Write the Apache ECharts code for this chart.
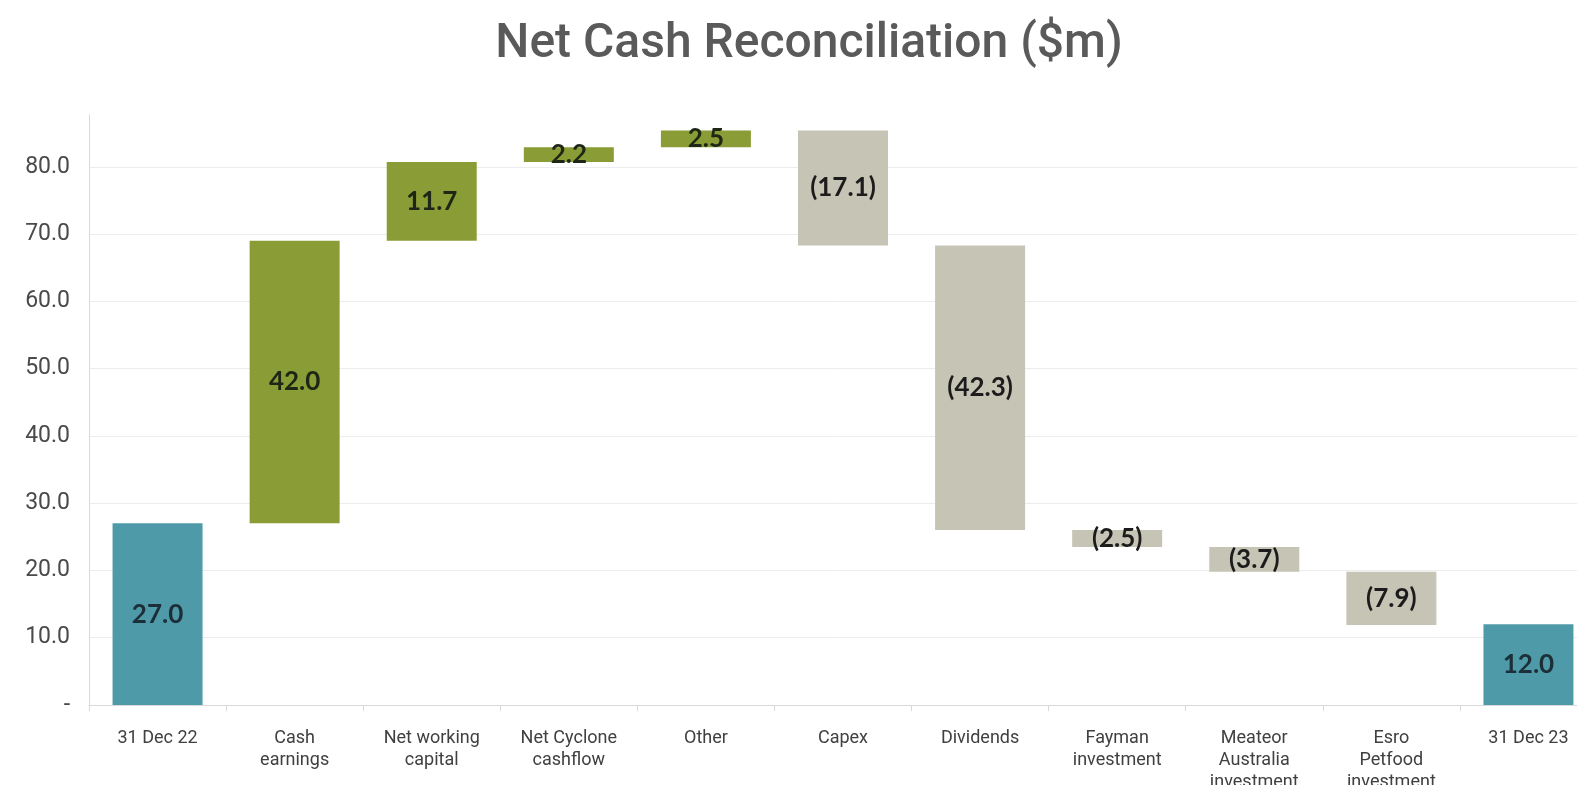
<!DOCTYPE html>
<html>
<head>
<meta charset="utf-8">
<script src="https://cdn.jsdelivr.net/npm/echarts@6/dist/echarts.min.js"></script>
<style>
  html, body { margin: 0; padding: 0; background: #ffffff; }
  #chart { width: 1577px; height: 785px; }
</style>
</head>
<body>
<div id="chart"></div>
<script>
// Waterfall categories (x axis)
const categories = [
  '31 Dec 22', 'Cash\nearnings', 'Net working\ncapital', 'Net Cyclone\ncashflow', 'Other',
  'Capex', 'Dividends', 'Fayman\ninvestment', 'Meateor\nAustralia\ninvestment',
  'Esro\nPetfood\ninvestment', '31 Dec 23'
];
// Movement per step ($m); totals are full balances
const changes = [27.0, 42.0, 11.7, 2.2, 2.5, -17.1, -42.3, -2.5, -3.7, -7.9, 12.0];
// Kind of each step: opening/closing balance or movement
const kinds = ['total', 'move', 'move', 'move', 'move', 'move', 'move', 'move', 'move', 'move', 'total'];
// Y axis ticks
const yTicks = [0, 10, 20, 30, 40, 50, 60, 70, 80];

const colors = { total: '#4f9aa8', up: '#8a9c36', down: '#c6c4b5' };
const labelColors = { total: '#1c2e37', up: '#1e2616', down: '#1c1c1c' };

// Build the invisible base and the visible segment for each step
const baseData = [];
const barData = [];
let running = 0;
changes.forEach((v, i) => {
  let kind;
  if (kinds[i] === 'total') {
    kind = 'total';
    baseData.push(0);
    running = v;
  } else if (v >= 0) {
    kind = 'up';
    baseData.push(running);
    running += v;
  } else {
    kind = 'down';
    running += v;
    baseData.push(running);
  }
  barData.push({
    value: Math.abs(v),
    change: v,
    itemStyle: { color: colors[kind] },
    label: { color: labelColors[kind] }
  });
});

const fmt = v => v < 0 ? '(' + Math.abs(v).toFixed(1) + ')' : v.toFixed(1);

const chart = echarts.init(document.getElementById('chart'));
chart.setOption({
  backgroundColor: '#ffffff',
  animation: false,
  title: {
    text: 'Net Cash Reconciliation ($m)',
    left: 804,
    textAlign: 'center',
    top: 16,
    textStyle: { fontFamily: 'Roboto', fontSize: 48, fontWeight: 500, color: '#5a5a5a' }
  },
  // the plot runs slightly past the right edge of the canvas
  grid: { left: 89, right: -20, top: 115, bottom: 80, containLabel: false, outerBoundsMode: 'none' },
  xAxis: {
    type: 'category',
    data: categories,
    axisLine: { show: true, lineStyle: { color: '#d9d9d9', width: 1 } },
    axisTick: { show: true, length: 6, lineStyle: { color: '#d9d9d9' } },
    axisLabel: {
      interval: 0,
      margin: 22,
      fontFamily: 'Roboto',
      fontSize: 18,
      lineHeight: 22,
      color: '#404040'
    }
  },
  yAxis: {
    type: 'value',
    min: 0,
    max: 87.7,
    interval: 10,
    axisLine: { show: true, lineStyle: { color: '#d9d9d9', width: 1 } },
    axisTick: { show: false },
    splitLine: { show: true, showMaxLine: false, lineStyle: { color: '#ececec', width: 1 } },
    axisLabel: {
      showMaxLabel: false,
      margin: 19,
      fontFamily: 'Roboto',
      fontSize: 23,
      color: '#4a4a4a',
      formatter: v => (yTicks.indexOf(v) === -1 ? '' : (v === 0 ? '-' : v.toFixed(1)))
    }
  },
  series: [
    {
      name: 'base',
      type: 'bar',
      stack: 'wf',
      barWidth: 90,
      silent: true,
      itemStyle: { color: 'rgba(0,0,0,0)' },
      data: baseData
    },
    {
      name: 'change',
      type: 'bar',
      stack: 'wf',
      barWidth: 90,
      data: barData,
      label: {
        show: true,
        position: 'inside',
        fontFamily: 'Lato',
        fontWeight: 'bold',
        fontSize: 26,
        formatter: p => fmt(p.data.change)
      }
    }
  ]
});
</script>
</body>
</html>
